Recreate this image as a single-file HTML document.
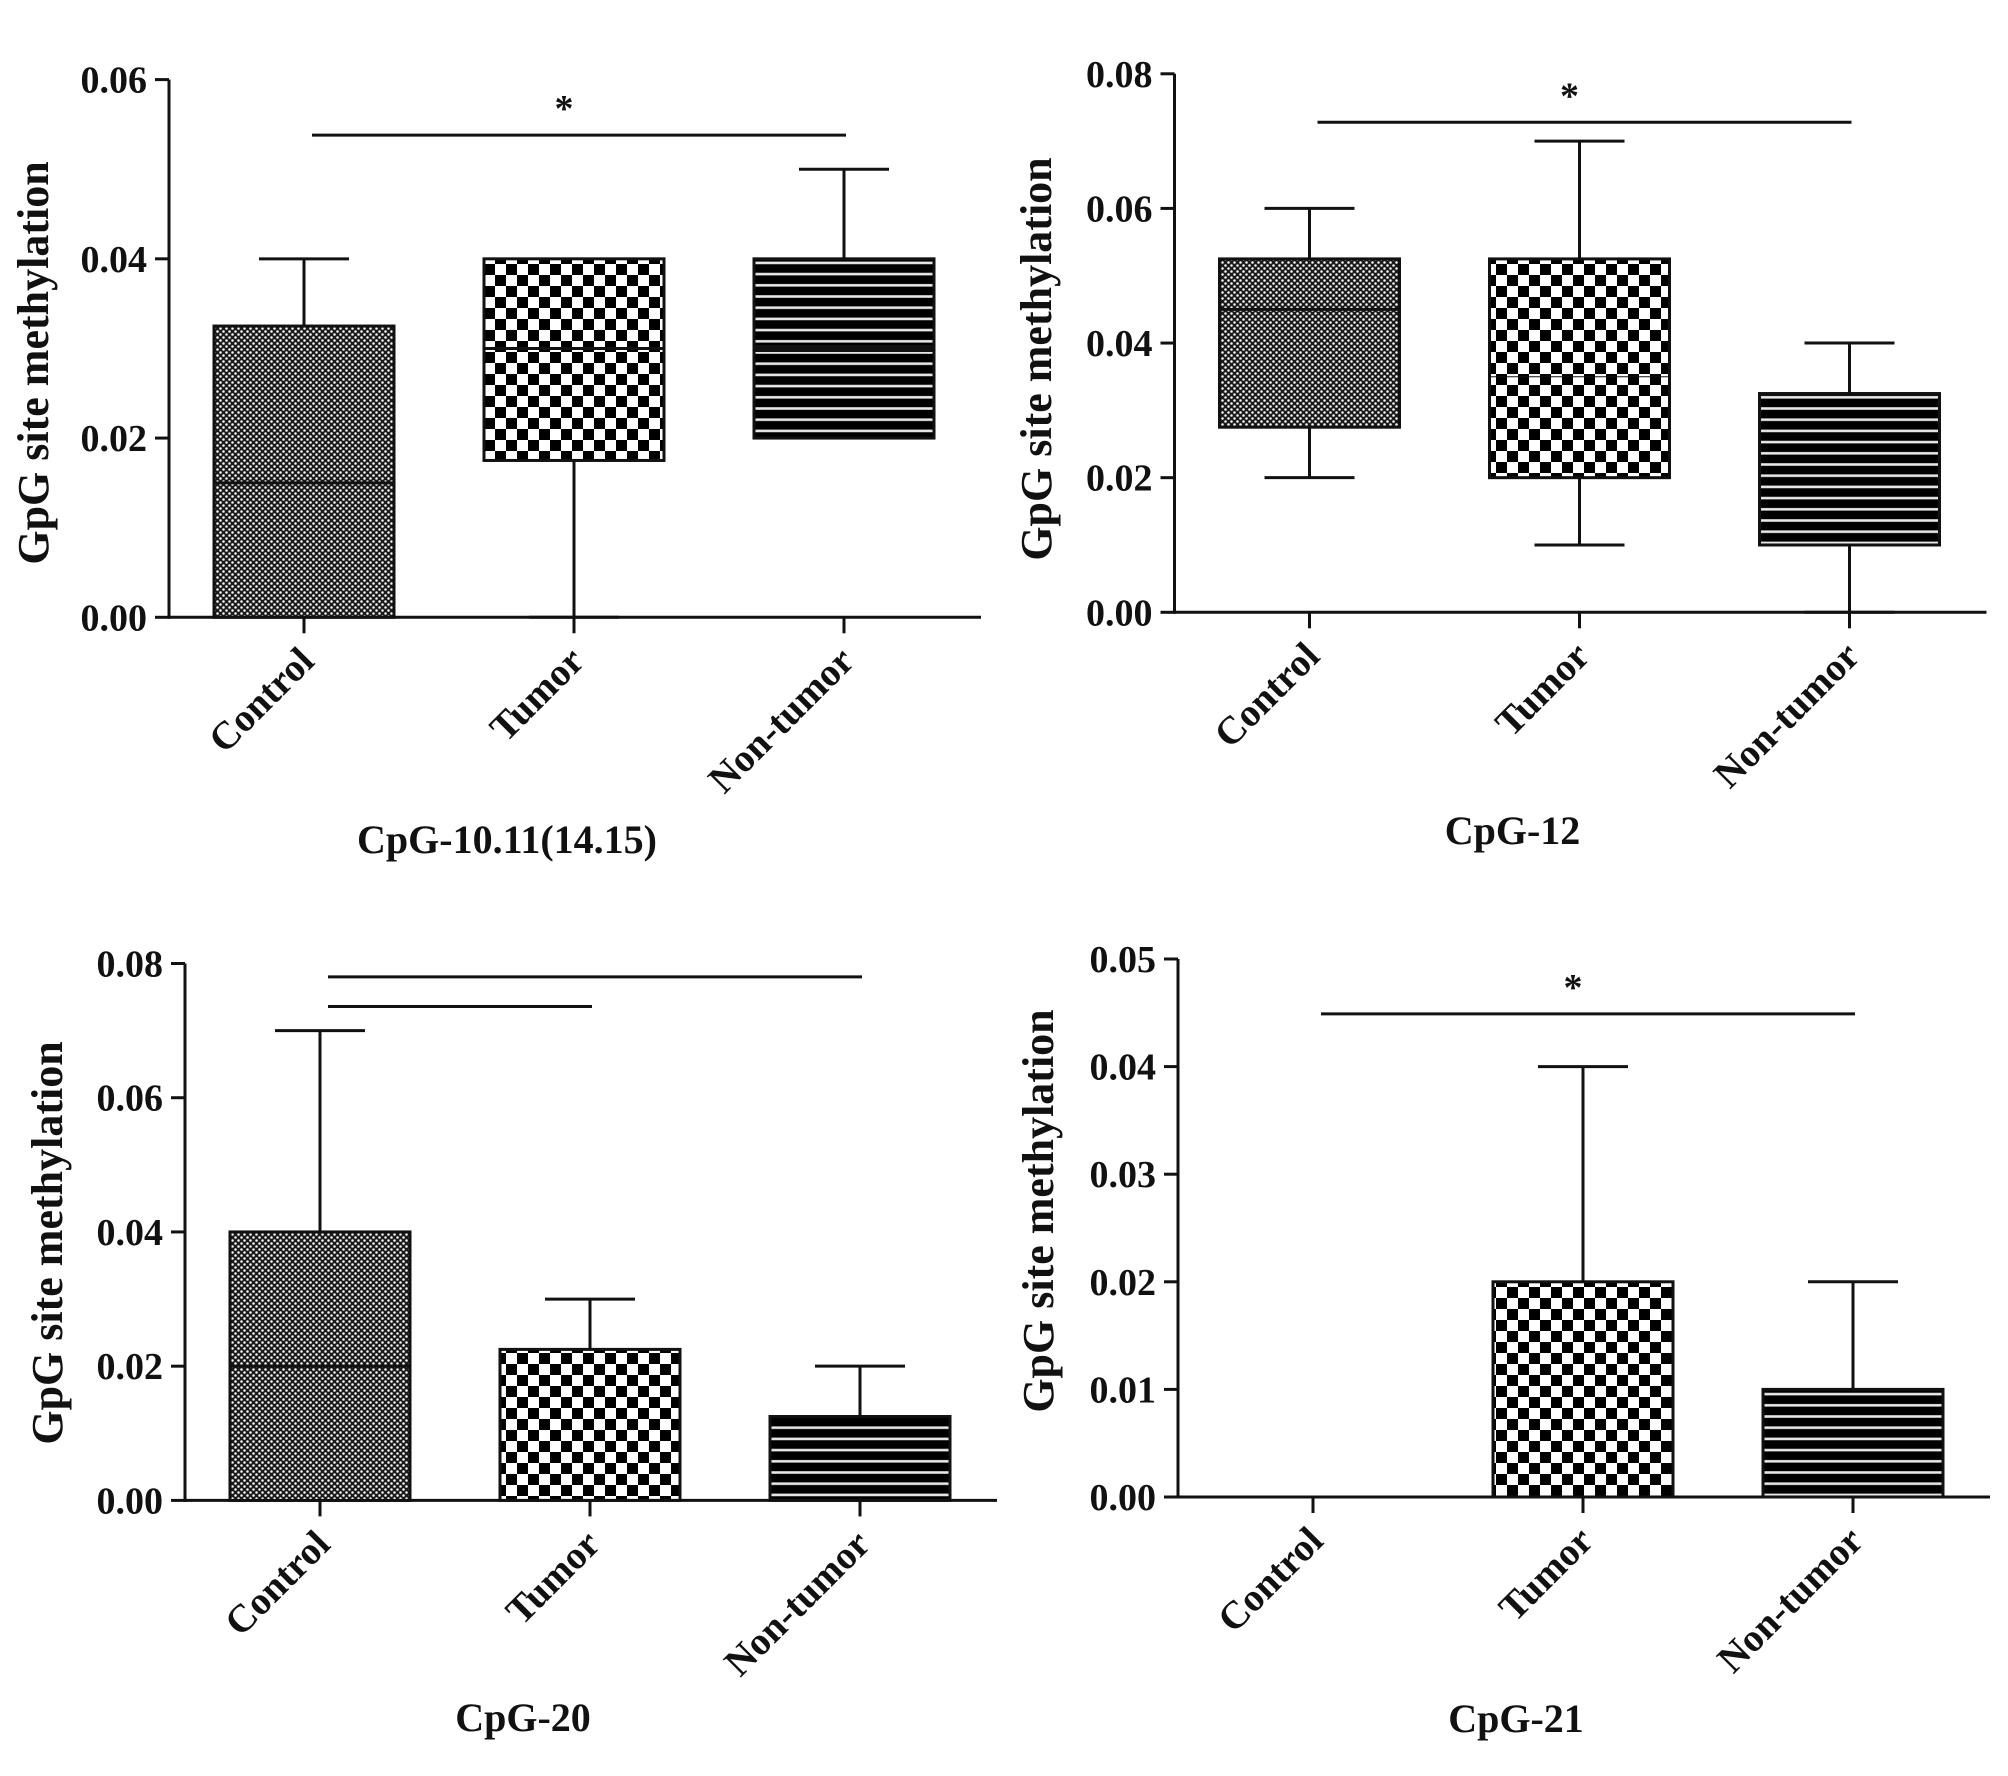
<!DOCTYPE html>
<html><head><meta charset="utf-8">
<style>
html,body{margin:0;padding:0;background:#fff;}
svg{display:block;}
text{font-family:"Liberation Serif","DejaVu Serif",serif;font-weight:bold;fill:#111;}
</style></head>
<body>
<svg id="fig" width="2008" height="1776" viewBox="0 0 2008 1776" xmlns="http://www.w3.org/2000/svg">
<defs>
<pattern id="patDots" patternUnits="userSpaceOnUse" width="6" height="6">
<rect width="6" height="6" fill="#1a1a1a"/>
<circle cx="1.5" cy="1.5" r="1.25" fill="#fff"/>
<circle cx="4.5" cy="4.5" r="1.25" fill="#fff"/>
</pattern>
<pattern id="patCheck" patternUnits="userSpaceOnUse" width="22" height="22">
<rect width="22" height="22" fill="#fff"/>
<rect x="0" y="0" width="11" height="11" fill="#000"/>
<rect x="11" y="11" width="11" height="11" fill="#000"/>
</pattern>
<pattern id="patLines" patternUnits="userSpaceOnUse" width="20" height="11.2">
<rect width="20" height="11.2" fill="#000"/>
<rect x="0" y="4" width="20" height="2.6" fill="#e8e8e8"/>
</pattern>
</defs>
</svg>
<script>
// ---- Data ----
const categories = ["Control", "Tumor", "Non-tumor"];
const titles = ["CpG-10.11(14.15)", "CpG-12", "CpG-20", "CpG-21"];

const p1Min = [0, 0, 0.02];
const p1Q1  = [0, 0.0175, 0.02];
const p1Med = [0.015, 0.03, 0.03];
const p1Q3  = [0.0325, 0.04, 0.04];
const p1Max = [0.04, 0.04, 0.05];
const p1Ticks = ["0.00", "0.02", "0.04", "0.06"];

const p2Min = [0.02, 0.01, 0];
const p2Q1  = [0.0275, 0.02, 0.01];
const p2Med = [0.045, 0.035, 0.02];
const p2Q3  = [0.0525, 0.0525, 0.0325];
const p2Max = [0.06, 0.07, 0.04];
const p2Ticks = ["0.00", "0.02", "0.04", "0.06", "0.08"];

const p3Min = [0, 0, 0];
const p3Q1  = [0, 0, 0];
const p3Med = [0.02, 0, 0];
const p3Q3  = [0.04, 0.0225, 0.0125];
const p3Max = [0.07, 0.03, 0.02];
const p3Ticks = ["0.00", "0.02", "0.04", "0.06", "0.08"];

const p4Min = [0, 0, 0];
const p4Q1  = [0, 0, 0];
const p4Med = [0, 0, 0];
const p4Q3  = [0, 0.02, 0.01];
const p4Max = [0, 0.04, 0.02];
const p4Ticks = ["0.00", "0.01", "0.02", "0.03", "0.04", "0.05"];

// significance brackets: [fromIndex, toIndex, yValue, star]
const p1Sig = [[0, 2, 0.0538, 1]];
const p2Sig = [[0, 2, 0.0728, 1]];
const p3Sig = [[0, 2, 0.078, 0], [0, 1, 0.0736, 0]];
const p4Sig = [[0, 2, 0.0449, 1]];

// ---- Layout (not data) ----
const layouts = [
  {axX:169, y0:617.3, yTop:79.6, yMax:0.06, titleY:853, yTitle:[33,363], medW:[3,3,7]},
  {axX:1174.5, y0:612.3, yTop:73.8, yMax:0.08, titleY:844, yTitle:[1036,359], medW:[3,1,0]},
  {axX:185, y0:1500.4, yTop:963.5, yMax:0.08, titleY:1731, yTitle:[47,1243], medW:[3,3,3]},
  {axX:1178, y0:1497, yTop:959, yMax:0.05, titleY:1732, yTitle:[1038,1211], medW:[3,3,3]}
];
const panelData = [
  {min:p1Min,q1:p1Q1,med:p1Med,q3:p1Q3,max:p1Max,ticks:p1Ticks,sig:p1Sig},
  {min:p2Min,q1:p2Q1,med:p2Med,q3:p2Q3,max:p2Max,ticks:p2Ticks,sig:p2Sig},
  {min:p3Min,q1:p3Q1,med:p3Med,q3:p3Q3,max:p3Max,ticks:p3Ticks,sig:p3Sig},
  {min:p4Min,q1:p4Q1,med:p4Med,q3:p4Q3,max:p4Max,ticks:p4Ticks,sig:p4Sig}
];
const fills = ["url(#patDots)", "url(#patCheck)", "url(#patLines)"];

const NS = "http://www.w3.org/2000/svg";
const svg = document.getElementById("fig");
function mk(tag, attrs, parent) {
  const e = document.createElementNS(NS, tag);
  for (const k in attrs) e.setAttribute(k, attrs[k]);
  (parent || svg).appendChild(e);
  return e;
}
function line(x1, y1, x2, y2, parent, w) {
  return mk("line", {x1:x1, y1:y1, x2:x2, y2:y2, stroke:"#111", "stroke-width":w || 3}, parent);
}

layouts.forEach((L, pi) => {
  const D = panelData[pi];
  const g = mk("g", {});
  
  
  const yScale = v => L.y0 - (v / L.yMax) * (L.y0 - L.yTop);
  const xCenter = i => L.axX + 135 + 270 * i;
  const halfBox = 90, halfCap = 45;

  const ya = line(L.axX, L.yTop, L.axX, L.y0 + 1.5, g);
  
  
  const nT = D.ticks.length - 1;
  D.ticks.forEach((t, k) => {
    const v = L.yMax * k / nT;
    const y = yScale(v);
    line(L.axX - 14, y, L.axX, y, g);
    const tx = mk("text", {x:L.axX - 22, y:y + 13, "text-anchor":"end", "font-size":38}, g);
    tx.textContent = t;
    
    
  });
  const xa = line(L.axX - 1.5, L.y0, L.axX + 812, L.y0, g);
  
  

  categories.forEach((c, i) => {
    const cx = xCenter(i);
    line(cx, L.y0, cx, L.y0 + 16, g);
    const ax = cx + 12, ay = L.y0 + 46;
    const tx = mk("text", {x:ax, y:ay, "text-anchor":"end", "font-size":39,
      transform:"rotate(-45 " + ax + " " + ay + ")"}, g);
    tx.textContent = c;
    
    

    const yq1 = yScale(D.q1[i]), yq3 = yScale(D.q3[i]);
    const bg = mk("g", {}, g);
    
    
    if (D.max[i] > D.q3[i]) {
      line(cx, yScale(D.max[i]), cx, yq3, bg);
      line(cx - halfCap, yScale(D.max[i]), cx + halfCap, yScale(D.max[i]), bg);
    }
    if (D.min[i] < D.q1[i]) {
      line(cx, yq1, cx, yScale(D.min[i]), bg);
      line(cx - halfCap, yScale(D.min[i]), cx + halfCap, yScale(D.min[i]), bg);
    }
    if (D.q3[i] > D.q1[i]) {
      mk("rect", {x:cx - halfBox, y:yq3, width:halfBox * 2, height:yq1 - yq3,
        fill:fills[i], stroke:"#111", "stroke-width":3}, bg);
      const mw = L.medW[i];
      if (mw > 0 && D.med[i] > D.q1[i] && D.med[i] < D.q3[i]) {
        line(cx - halfBox, yScale(D.med[i]), cx + halfBox, yScale(D.med[i]), bg, mw);
      }
    }
  });

  D.sig.forEach(s => {
    const y = yScale(s[2]);
    const l = line(xCenter(s[0]) + 8, y, xCenter(s[1]) + 2, y, g);
    
    
    if (s[3]) {
      const st = mk("text", {x:(xCenter(s[0]) + xCenter(s[1])) / 2 - 10, y:y - 14, "text-anchor":"middle", "font-size":38, "font-weight":"normal"}, g);
      st.textContent = "*";
      
      
    }
  });

  const tt = mk("text", {x:L.axX + 338, y:L.titleY, "text-anchor":"middle", "font-size":40}, g);
  tt.textContent = titles[pi];
  
  
  const [yx, yy] = L.yTitle;
  const yt = mk("text", {x:yx + 15, y:yy, "text-anchor":"middle", "font-size":44,
    transform:"rotate(-90 " + (yx + 15) + " " + yy + ")"}, g);
  yt.textContent = "GpG site methylation";
  
  
});
</script>
</body></html>
